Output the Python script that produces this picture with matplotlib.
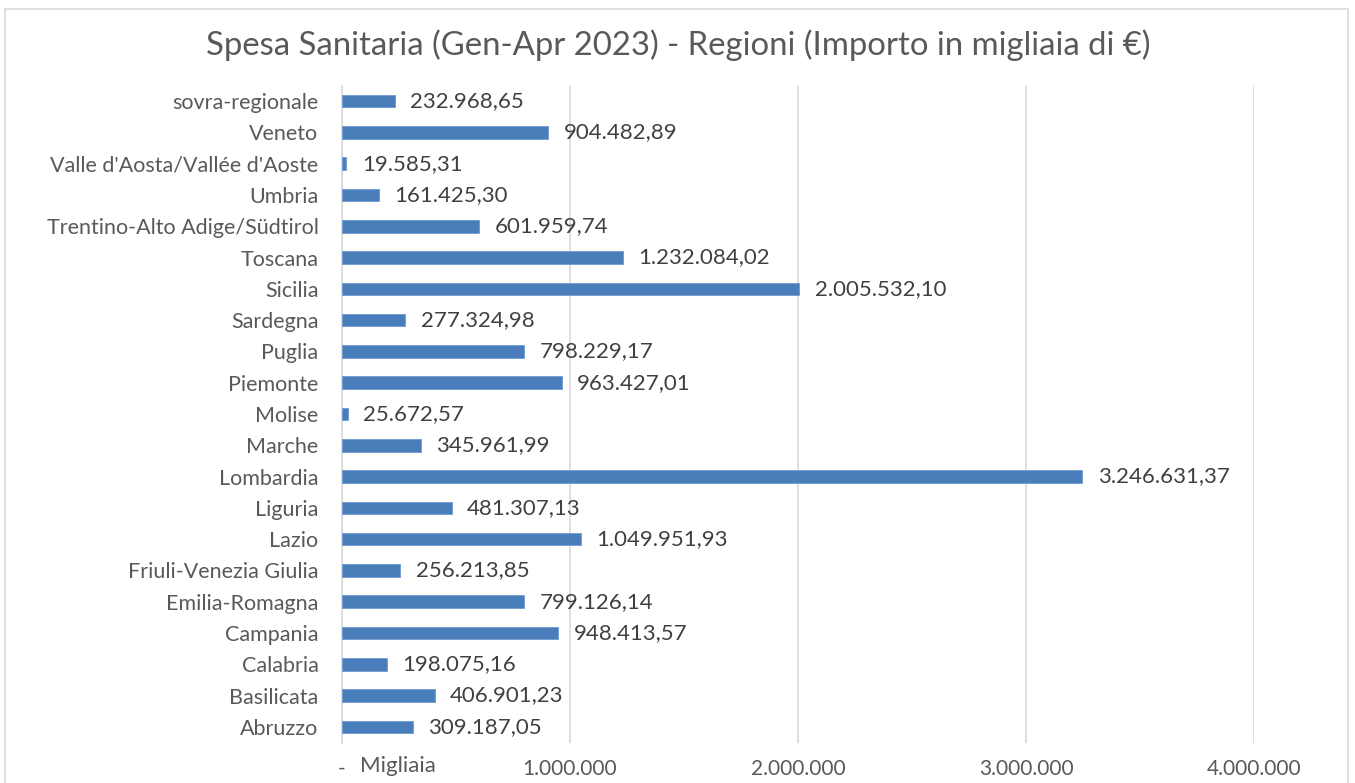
import matplotlib.pyplot as plt
from matplotlib.patches import Rectangle

# Data (first entry is the bottom bar)
regioni = ["Abruzzo", "Basilicata", "Calabria", "Campania", "Emilia-Romagna",
           "Friuli-Venezia Giulia", "Lazio", "Liguria", "Lombardia", "Marche",
           "Molise", "Piemonte", "Puglia", "Sardegna", "Sicilia", "Toscana",
           "Trentino-Alto Adige/Südtirol", "Umbria", "Valle d'Aosta/Vallée d'Aoste",
           "Veneto", "sovra-regionale"]
importi = [309187.05, 406901.23, 198075.16, 948413.57, 799126.14,
           256213.85, 1049951.93, 481307.13, 3246631.37, 345961.99,
           25672.57, 963427.01, 798229.17, 277324.98, 2005532.10, 1232084.02,
           601959.74, 161425.30, 19585.31, 904482.89, 232968.65]
xticks = [0, 1000000, 2000000, 3000000, 4000000]
xtick_labels = ["-", "1.000.000", "2.000.000", "3.000.000", "4.000.000"]
titolo = "Spesa Sanitaria (Gen-Apr 2023) - Regioni (Importo in migliaia di €)"


def fmt_it(v):
    s = f"{v:,.2f}"
    return s.replace(",", "X").replace(".", ",").replace("X", ".")


plt.rcParams['font.family'] = ['Lato', 'DejaVu Sans']
testo = "#595959"

fig = plt.figure(figsize=(13.55, 7.83), dpi=100)
ax = fig.add_axes([0.2524, 1 - 742.5 / 783, 0.9255 - 0.2524, 657 / 783])

y = range(len(regioni))
ax.barh(y, importi, height=0.4, color="#4a7ebb", edgecolor="#6f9bd0", linewidth=0.6, zorder=3)

for yi, v in zip(y, importi):
    ax.annotate(fmt_it(v), (v, yi), xytext=(11, 0), textcoords="offset points",
                va="center", ha="left", fontsize=16, color="#404040")

ax.set_xlim(0, 4000000)
ax.set_ylim(-0.5, len(regioni) - 0.5)
ax.set_xticks(xticks)
ax.set_xticklabels(xtick_labels, fontsize=15, color=testo)
ax.set_yticks(list(y))
ax.set_yticklabels(regioni, fontsize=15.5, color=testo)
ax.tick_params(axis="both", length=0)
ax.tick_params(axis="x", pad=12)
ax.tick_params(axis="y", pad=17)
ax.grid(axis="x", color="#d9d9d9", linewidth=1.2, zorder=0)
for s in ["top", "right", "bottom"]:
    ax.spines[s].set_visible(False)
ax.spines["left"].set_color("#d9d9d9")
ax.spines["left"].set_linewidth(1.2)

# display units label next to the zero tick
fig.text(360 / 1355, 1 - 766 / 783, "Migliaia", fontsize=16, color=testo, va="center", ha="left")

fig.text(678 / 1355, 1 - 45 / 783, titolo, fontsize=23.7, color=testo, ha="center", va="center")

# chart border
fig.patches.append(Rectangle((5 / 1355, -0.05), 1343 / 1355, 1.05 - 9 / 783,
                             transform=fig.transFigure, fill=False,
                             edgecolor="#d9d9d9", linewidth=1.2))

fig.savefig("out.png", dpi=100, facecolor="white")
